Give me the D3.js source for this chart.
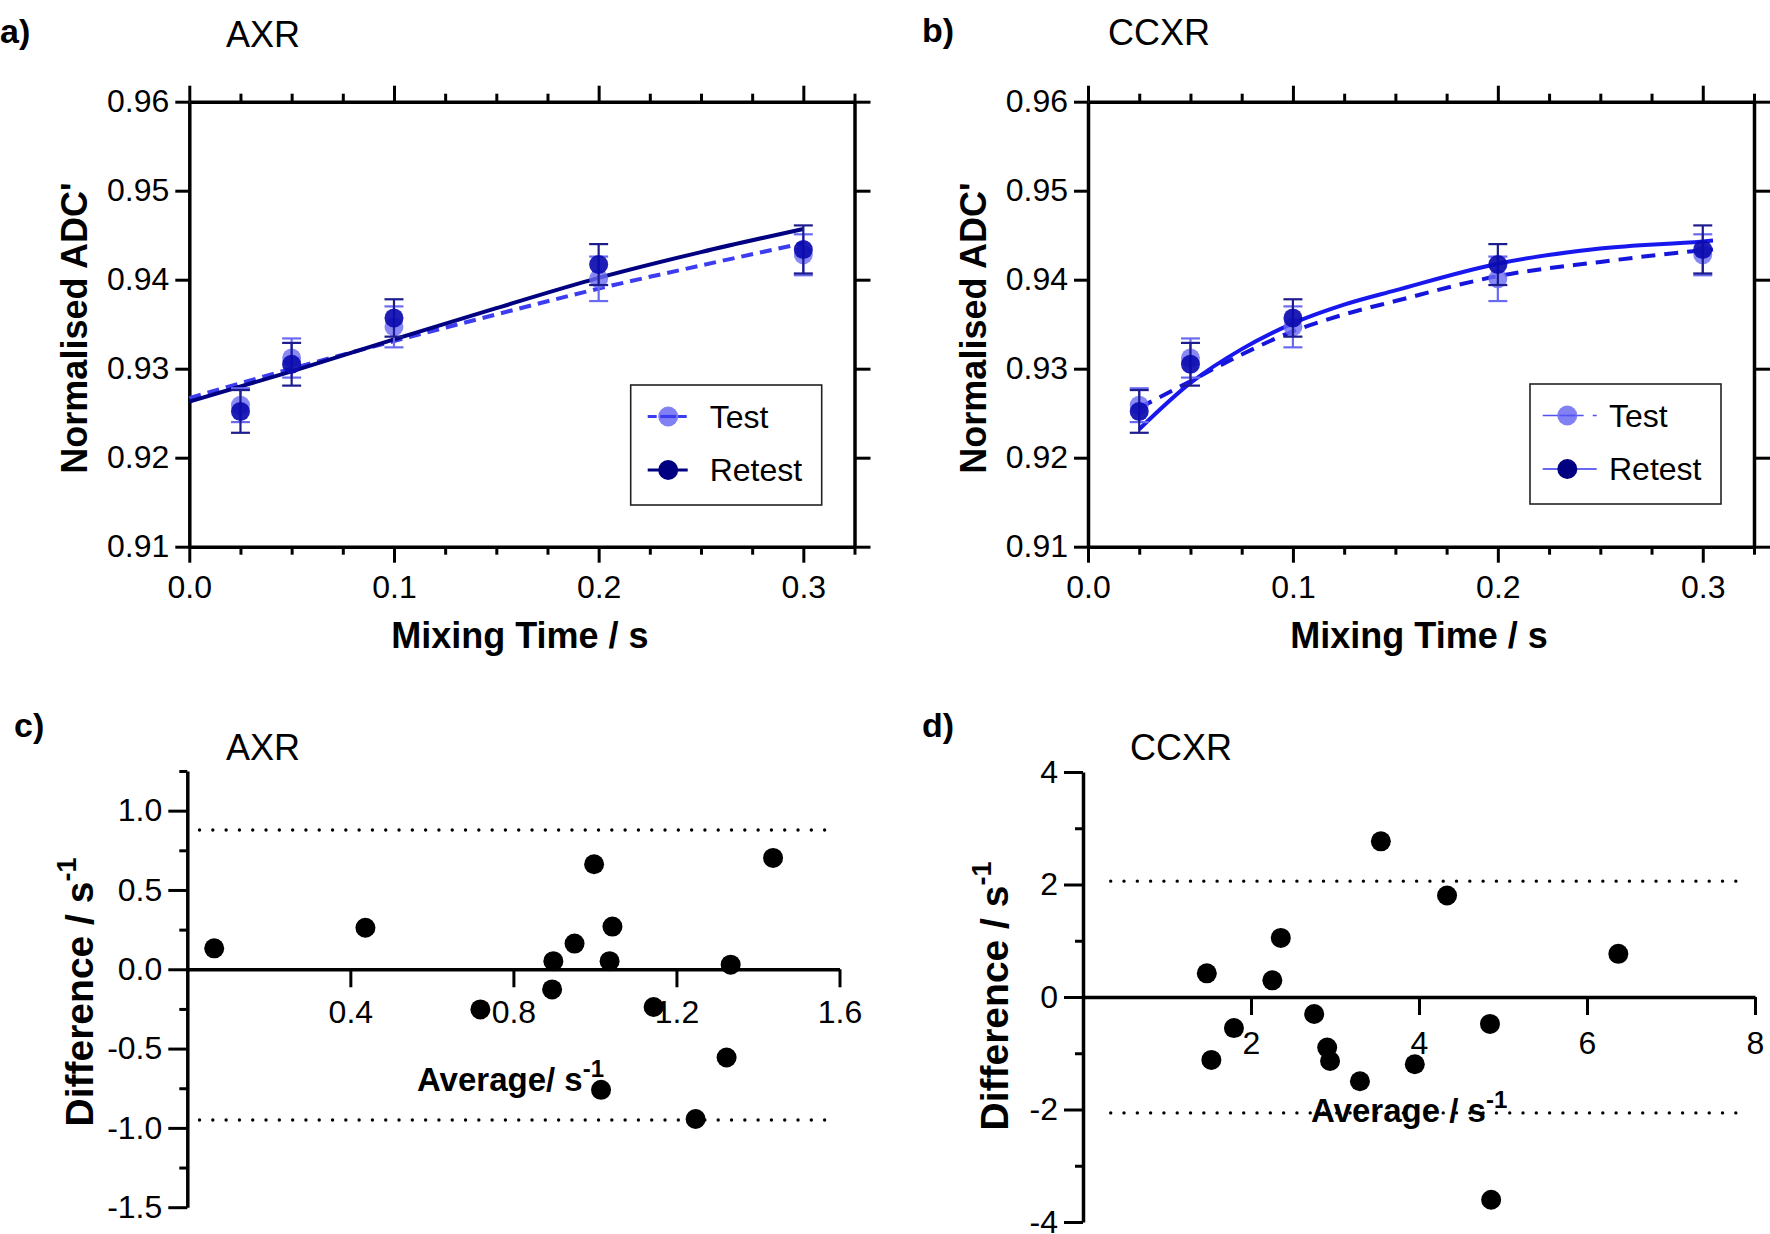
<!DOCTYPE html>
<html>
<head>
<meta charset="utf-8">
<script src="https://cdn.jsdelivr.net/npm/d3@7"></script>
<style>
  body { margin: 0; background: #fff; }
  svg { display: block; font-family: "Liberation Sans", Arial, sans-serif; }
  .axis .domain { stroke: #000; stroke-width: 3.5; }
  .axis .tick line { stroke: #000; stroke-width: 3; }
  .axis .tick text { font-size: 32px; fill: #000; font-family: "Liberation Sans", Arial, sans-serif; }
</style>
</head>
<body>
<svg id="chart" width="1770" height="1234"></svg>
<script>
// ---------- Data ----------
const mixingTime   = [0.025, 0.05, 0.1, 0.2, 0.3];
const testMean     = [0.9259, 0.9312, 0.9347, 0.9401, 0.9428];
const testErr      = [0.0019, 0.0022, 0.0023, 0.0025, 0.0023];
const retestMean   = [0.9252, 0.9305, 0.9357, 0.9417, 0.9434];
const retestErr    = [0.0024, 0.0024, 0.0021, 0.0023, 0.0027];

// fitted curves, panel a (AXR)
const fitTimeA     = [0, 0.05, 0.1, 0.15, 0.2, 0.25, 0.3];
const fitTestA     = [0.9267, 0.9300, 0.9331, 0.9361, 0.9390, 0.9416, 0.9441];
const fitRetestA   = [0.9263, 0.9297, 0.9333, 0.9368, 0.9402, 0.9431, 0.9457];
// fitted curves, panel b (CCXR)
const fitTimeB     = [0.025, 0.05, 0.075, 0.1, 0.125, 0.15, 0.2, 0.25, 0.3, 0.305];
const fitTestB     = [0.9256, 0.9286, 0.9316, 0.9342, 0.9361, 0.9376, 0.9404, 0.9420, 0.9433, 0.9434];
const fitRetestB   = [0.9232, 0.9284, 0.9322, 0.9351, 0.9372, 0.9388, 0.9418, 0.9435, 0.9443, 0.9444];

const xTicksTop    = [0, 0.1, 0.2, 0.3];
const xMinorTop    = [0.025, 0.05, 0.075, 0.125, 0.15, 0.175, 0.225, 0.25, 0.275, 0.325];
const yTicksTop    = [0.91, 0.92, 0.93, 0.94, 0.95, 0.96];

// Bland-Altman, panel c (AXR)
const axrAverage   = [0.066, 0.437, 0.719, 0.898, 0.895, 0.950, 0.998, 1.036, 1.043, 1.015, 1.144, 1.247, 1.323, 1.333, 1.437];
const axrDiff      = [0.132, 0.262, -0.253, 0.051, -0.127, 0.162, 0.662, 0.051, 0.269, -0.760, -0.238, -0.944, -0.556, 0.029, 0.702];
const axrLimits    = [0.878, -0.95];
const axrLimitSpan = [0.03, 1.59];
const axrXTicks    = [0.4, 0.8, 1.2, 1.6];
const axrYTicks    = [-1.5, -1.0, -0.5, 0, 0.5, 1.0];
const axrYMinor    = [-1.25, -0.75, -0.25, 0.25, 0.75, 1.25];

// Bland-Altman, panel d (CCXR)
const ccxrAverage  = [1.474, 1.528, 1.797, 2.254, 2.355, 2.752, 2.907, 2.941, 3.297, 3.546, 3.950, 4.334, 4.845, 4.859, 6.373];
const ccxrDiff     = [0.421, -1.119, -0.553, 0.296, 1.050, -0.302, -0.899, -1.138, -1.497, 2.767, -1.195, 1.805, -0.478, -3.604, 0.767];
const ccxrLimits   = [2.06, -2.06];
const ccxrLimitSpan = [0.33, 7.9];
const ccxrXTicks   = [2, 4, 6, 8];
const ccxrYTicks   = [-4, -2, 0, 2, 4];
const ccxrYMinor   = [-3, -1, 1, 3];

// ---------- Drawing ----------
const svg = d3.select("#chart");
svg.append("rect").attr("width", 1770).attr("height", 1234).attr("fill", "#fff");

function styleAxis(g) { g.attr("class", "axis"); }

function addText(x, y, str, size, weight, anchor) {
  return svg.append("text").attr("x", x).attr("y", y)
    .attr("font-size", size).attr("font-weight", weight || "normal")
    .attr("text-anchor", anchor || "start").attr("fill", "#000").text(str);
}

function topPanel(cfg) {
  const x = d3.scaleLinear().domain([0, 0.325]).range([cfg.x0, cfg.x1]);
  const y = d3.scaleLinear().domain([0.91, 0.96]).range([546.7, 101.7]);
  const g = svg.append("g");

  // bottom axis
  g.append("g").call(styleAxis).attr("transform", `translate(0,${y(0.91)})`)
    .call(d3.axisBottom(x).tickValues(xTicksTop).tickSize(16).tickSizeOuter(0)
      .tickPadding(13).tickFormat(d => d.toFixed(1)));
  g.append("g").call(styleAxis).attr("transform", `translate(0,${y(0.91)})`)
    .call(d3.axisBottom(x).tickValues(xMinorTop).tickSize(8).tickSizeOuter(0).tickFormat(""))
    .select(".domain").remove();
  // top axis
  g.append("g").call(styleAxis).attr("transform", `translate(0,${y(0.96)})`)
    .call(d3.axisTop(x).tickValues(xTicksTop).tickSize(16).tickSizeOuter(0).tickFormat(""));
  g.append("g").call(styleAxis).attr("transform", `translate(0,${y(0.96)})`)
    .call(d3.axisTop(x).tickValues(xMinorTop).tickSize(8).tickSizeOuter(0).tickFormat(""))
    .select(".domain").remove();
  // left axis
  g.append("g").call(styleAxis).attr("transform", `translate(${x(0)},0)`)
    .call(d3.axisLeft(y).tickValues(yTicksTop).tickSize(14).tickSizeOuter(0)
      .tickPadding(6).tickFormat(d => d.toFixed(2)));
  // right axis
  g.append("g").call(styleAxis).attr("transform", `translate(${x(0.325)},0)`)
    .call(d3.axisRight(y).tickValues(yTicksTop).tickSize(16).tickSizeOuter(0).tickFormat(""));

  const line = d3.line().x(d => x(d[0])).y(d => y(d[1])).curve(d3.curveMonotoneX);

  // fits
  g.append("path").datum(cfg.fitT.map((t, i) => [t, cfg.fitTest[i]]))
    .attr("d", line).attr("fill", "none").attr("stroke", cfg.testLine)
    .attr("stroke-width", 4).attr("stroke-dasharray", cfg.dash);
  g.append("path").datum(cfg.fitT.map((t, i) => [t, cfg.fitRetest[i]]))
    .attr("d", line).attr("fill", "none").attr("stroke", cfg.retestLine)
    .attr("stroke-width", 4);

  function errorBars(means, errs, color) {
    const eb = g.append("g").attr("stroke", color).attr("stroke-width", 2.2).attr("fill", "none");
    mixingTime.forEach((t, i) => {
      const cx = x(t), yt = y(means[i] + errs[i]), yb = y(means[i] - errs[i]);
      eb.append("line").attr("x1", cx).attr("x2", cx).attr("y1", yt).attr("y2", yb);
      eb.append("line").attr("x1", cx - 9.5).attr("x2", cx + 9.5).attr("y1", yt).attr("y2", yt);
      eb.append("line").attr("x1", cx - 9.5).attr("x2", cx + 9.5).attr("y1", yb).attr("y2", yb);
    });
  }
  // test points
  errorBars(testMean, testErr, "#6a6af0");
  g.append("g").selectAll("circle").data(mixingTime).join("circle")
    .attr("cx", d => x(d)).attr("cy", (d, i) => y(testMean[i])).attr("r", 9.5)
    .attr("fill", "#6b6bf2").attr("fill-opacity", 0.8);
  // retest points
  errorBars(retestMean, retestErr, "#1c1c8e");
  g.append("g").selectAll("circle").data(mixingTime).join("circle")
    .attr("cx", d => x(d)).attr("cy", (d, i) => y(retestMean[i])).attr("r", 9.5)
    .attr("fill", "#0b0bb0").attr("fill-opacity", 0.92);

  // legend
  const L = cfg.legend;
  g.append("rect").attr("x", L.x).attr("y", L.y).attr("width", 191).attr("height", 120)
    .attr("fill", "#fff").attr("stroke", "#222").attr("stroke-width", 1.6);
  const r1 = L.y + 31.5, r2 = L.y + 85;
  const lx0 = L.x + L.lx0, lx1 = L.x + L.lx1, mx = L.x + L.mx;
  g.append("line").attr("x1", lx0).attr("x2", lx1).attr("y1", r1).attr("y2", r1)
    .attr("stroke", cfg.legTestLine).attr("stroke-width", cfg.legW).attr("stroke-dasharray", cfg.legDash);
  g.append("circle").attr("cx", mx).attr("cy", r1).attr("r", 10)
    .attr("fill", "#6b6bf2").attr("fill-opacity", 0.85);
  g.append("line").attr("x1", mx - 8).attr("x2", mx + 8).attr("y1", r1).attr("y2", r1)
    .attr("stroke", cfg.legTestLine).attr("stroke-width", cfg.legW);
  g.append("line").attr("x1", lx0).attr("x2", lx1).attr("y1", r2).attr("y2", r2)
    .attr("stroke", cfg.legRetestLine).attr("stroke-width", cfg.legW);
  g.append("circle").attr("cx", mx).attr("cy", r2).attr("r", 10).attr("fill", "#000080");
  addText(L.x + L.tx, r1 + 11, "Test", 32);
  addText(L.x + L.tx, r2 + 11, "Retest", 32);

  // titles
  addText((cfg.x0 + cfg.x1) / 2 - 2, 648, "Mixing Time / s", 36, "bold", "middle");
  svg.append("text").attr("transform", `translate(${cfg.x0 - 102},${328}) rotate(-90)`)
    .attr("text-anchor", "middle").attr("font-size", 36).attr("font-weight", "bold")
    .text("Normalised ADC'");
}

topPanel({
  x0: 189.3, x1: 854.5,
  fitT: fitTimeA, fitTest: fitTestA, fitRetest: fitRetestA,
  testLine: "#3c3cf0", retestLine: "#000080", dash: "12,7",
  legend: { x: 630.7, y: 385, lx0: 17, lx1: 57, mx: 37.5, tx: 79 },
  legTestLine: "#3c3cf0", legRetestLine: "#000080", legW: 3.2, legDash: "9,6"
});
topPanel({
  x0: 1088, x1: 1754,
  fitT: fitTimeB, fitTest: fitTestB, fitRetest: fitRetestB,
  testLine: "#1515dc", retestLine: "#1818ee", dash: "14,9",
  legend: { x: 1530, y: 384, lx0: 12.7, lx1: 66.7, mx: 37.3, tx: 79 },
  legTestLine: "#5252f0", legRetestLine: "#3636ee", legW: 1.6, legDash: "16,9"
});

// panel labels and titles (top)
addText(0, 43, "a)", 34, "bold");
addText(226, 46.7, "AXR", 36);
addText(922, 42, "b)", 34, "bold");
addText(1108, 45, "CCXR", 36);

// ---------- Bland-Altman panels ----------
function baPanel(cfg) {
  const x = d3.scaleLinear().domain(cfg.xDomain).range([cfg.x0, cfg.x1]);
  const y = d3.scaleLinear().domain(cfg.yDomain).range([cfg.yBot, cfg.yTop]);
  const g = svg.append("g");

  // left axis
  g.append("g").call(styleAxis).attr("transform", `translate(${x(0)},0)`)
    .call(d3.axisLeft(y).tickValues(cfg.yTicks).tickSize(19).tickSizeOuter(0)
      .tickPadding(6).tickFormat(cfg.yFmt));
  g.append("g").call(styleAxis).attr("transform", `translate(${x(0)},0)`)
    .call(d3.axisLeft(y).tickValues(cfg.yMinor).tickSize(8).tickSizeOuter(0).tickFormat(""))
    .select(".domain").remove();
  // zero-line axis
  g.append("g").call(styleAxis).attr("transform", `translate(0,${y(0)})`)
    .call(d3.axisBottom(x).tickValues(cfg.xTicks).tickSize(18).tickSizeOuter(0)
      .tickPadding(cfg.xPad).tickFormat(cfg.xFmt));

  // limits of agreement
  cfg.limits.forEach(v => {
    g.append("line").attr("x1", x(cfg.span[0])).attr("x2", x(cfg.span[1]))
      .attr("y1", y(v)).attr("y2", y(v))
      .attr("stroke", "#000").attr("stroke-width", 3.4)
      .attr("stroke-linecap", "round").attr("stroke-dasharray", "0,13.3");
  });

  // points
  g.append("g").selectAll("circle").data(cfg.avg).join("circle")
    .attr("cx", d => x(d)).attr("cy", (d, i) => y(cfg.diff[i])).attr("r", 10).attr("fill", "#000");

  // x title with superscript
  const xt = svg.append("text").attr("x", cfg.xtX).attr("y", cfg.xtY)
    .attr("font-size", 33).attr("font-weight", "bold");
  xt.append("tspan").text(cfg.xTitle);
  xt.append("tspan").attr("dy", -14).attr("font-size", 24).text("-1");

  // y title rotated with superscript
  const yt = svg.append("text").attr("transform", `translate(${cfg.ytX},${cfg.ytY}) rotate(-90)`)
    .attr("text-anchor", "middle").attr("font-size", 39).attr("font-weight", "bold");
  yt.append("tspan").text("Difference / s");
  yt.append("tspan").attr("dy", -17).attr("font-size", 27).text("-1");
}

baPanel({
  xDomain: [0, 1.6], x0: 187.3, x1: 839.5,
  yDomain: [-1.5, 1.25], yBot: 1207.2, yTop: 771,
  yTicks: axrYTicks, yMinor: axrYMinor, xTicks: axrXTicks,
  yFmt: d => d.toFixed(1), xFmt: d => d.toFixed(1), xPad: 13,
  limits: axrLimits, span: axrLimitSpan,
  avg: axrAverage, diff: axrDiff,
  xTitle: "Average/ s", xtX: 417, xtY: 1091,
  ytX: 93, ytY: 992
});
baPanel({
  xDomain: [0, 8], x0: 1083, x1: 1755,
  yDomain: [-4, 4], yBot: 1222, yTop: 772,
  yTicks: ccxrYTicks, yMinor: ccxrYMinor, xTicks: ccxrXTicks,
  yFmt: d => String(d), xFmt: d => String(d), xPad: 16,
  limits: ccxrLimits, span: ccxrLimitSpan,
  avg: ccxrAverage, diff: ccxrDiff,
  xTitle: "Average / s", xtX: 1311, xtY: 1122,
  ytX: 1008, ytY: 996
});

addText(14, 737, "c)", 34, "bold");
addText(226, 760, "AXR", 36);
addText(922, 737, "d)", 34, "bold");
addText(1130, 760, "CCXR", 36);
</script>
</body>
</html>
